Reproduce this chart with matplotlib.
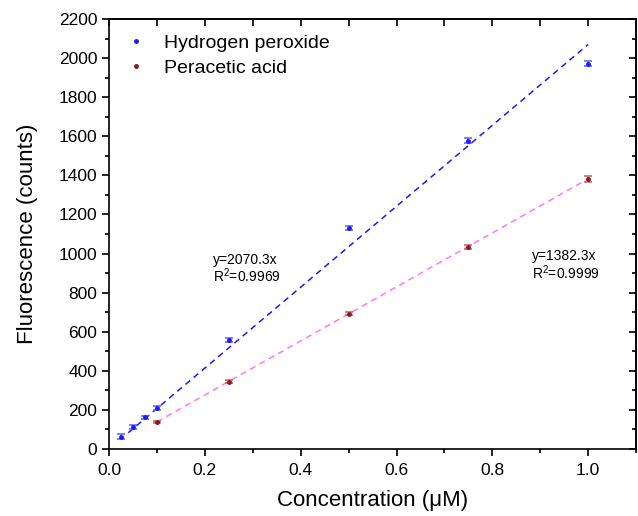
import numpy as np
import matplotlib
matplotlib.use("Agg")
import matplotlib.pyplot as plt
from matplotlib.ticker import MultipleLocator
from matplotlib.lines import Line2D

plt.rcParams['font.family'] = ['Liberation Sans', 'DejaVu Sans']
plt.rcParams['mathtext.fontset'] = 'custom'
plt.rcParams['mathtext.rm'] = 'Liberation Sans'

# data
h2o2_x = [0.025, 0.05, 0.075, 0.1, 0.25, 0.5, 0.75, 1.0]
h2o2_y = [62, 110, 163, 210, 558, 1133, 1578, 1972]
h2o2_err = [12, 10, 8, 9, 9, 10, 11, 12]

paa_x = [0.1, 0.25, 0.5, 0.75, 1.0]
paa_y = [138, 345, 692, 1035, 1381]
paa_err = [6, 6, 8, 10, 14]

h2o2_slope = 2070.3
paa_slope = 1382.3

blue = '#1a1aff'
red = '#8b1a1a'

fig, ax = plt.subplots(figsize=(6.38, 5.16), dpi=100)
fig.subplots_adjust(left=0.171, right=0.997, top=0.963, bottom=0.13)

ax.errorbar(h2o2_x, h2o2_y, yerr=h2o2_err, fmt='o', ms=2.5, color=blue,
            ecolor='#6a6aff', elinewidth=1.2, capsize=3, capthick=1.2, zorder=3)
ax.errorbar(paa_x, paa_y, yerr=paa_err, fmt='o', ms=2.5, color=red,
            ecolor='#c07070', elinewidth=1.2, capsize=3, capthick=1.2, zorder=3)

fx = np.array([0.04, h2o2_x[-1]])
ax.plot(fx, h2o2_slope * fx, '--', color=blue, lw=1.1, dashes=(4, 3))
px = np.array([paa_x[0], paa_x[-1]])
ax.plot(px, paa_slope * px, '--', color='#ff77ff', lw=1.1, dashes=(4, 3))

ax.text(0.217, 920, 'y=2070.3x\nR$^2$=0.9969', fontsize=10, va='center',
        linespacing=1.0)
ax.text(0.883, 940, 'y=1382.3x\nR$^2$=0.9999', fontsize=10, va='center',
        linespacing=1.0)

ax.set_xlim(0, 1.1)
ax.set_ylim(0, 2200)
ax.xaxis.set_major_locator(MultipleLocator(0.2))
ax.xaxis.set_minor_locator(MultipleLocator(0.1))
ax.yaxis.set_major_locator(MultipleLocator(200))
ax.yaxis.set_minor_locator(MultipleLocator(100))
ax.xaxis.set_major_formatter(lambda v, p: f'{v:.1f}')
ax.tick_params(which='major', direction='out', length=5, width=1.2, labelsize=12.5)
ax.tick_params(axis='x', which='major', pad=5)
ax.tick_params(which='minor', direction='out', length=3, width=1.2)

top = ax.secondary_xaxis('top')
top.xaxis.set_major_locator(MultipleLocator(0.2))
top.xaxis.set_minor_locator(MultipleLocator(0.1))
top.tick_params(which='both', direction='in', length=5, width=1.2, labeltop=False)
right = ax.secondary_yaxis('right')
right.yaxis.set_major_locator(MultipleLocator(200))
right.yaxis.set_minor_locator(MultipleLocator(100))
right.tick_params(which='major', direction='in', length=5, width=1.2, labelright=False)
right.tick_params(which='minor', direction='in', length=3, width=1.2)

for s in ax.spines.values():
    s.set_linewidth(1.2)
top.spines['top'].set_linewidth(1.2)
right.spines['right'].set_linewidth(1.2)

ax.set_xlabel('Concentration (\u03bcM)', fontsize=16, labelpad=9)
ax.set_ylabel('Fluorescence (counts)', fontsize=16, labelpad=15)

handles = [Line2D([], [], ls='none', marker='o', ms=2.5, color=blue),
           Line2D([], [], ls='none', marker='o', ms=2.5, color=red)]
ax.legend(handles, ['Hydrogen peroxide', 'Peracetic acid'], loc='upper left',
          fontsize=14, frameon=False, handletextpad=0.8, borderaxespad=0.4,
          labelspacing=0.38, handlelength=1.2)

fig.savefig('out.png', dpi=100)
